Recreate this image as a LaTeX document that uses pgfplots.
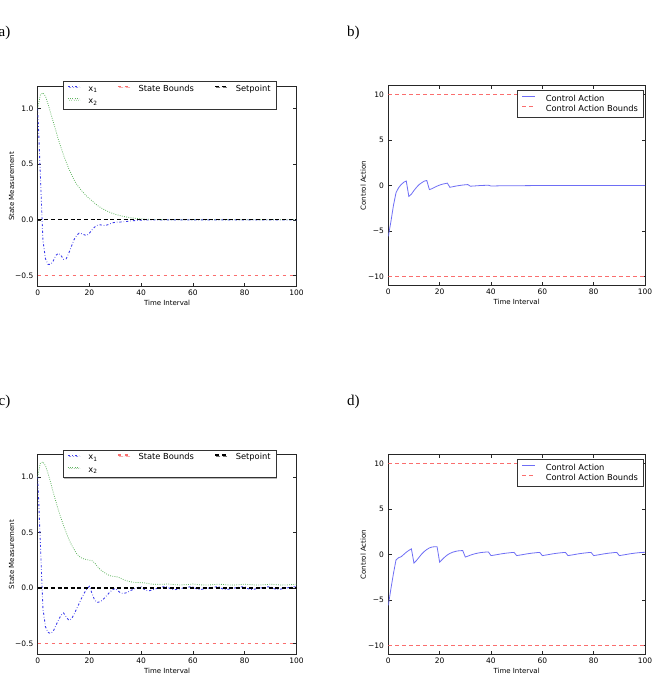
\documentclass[border=0pt]{standalone}
\usepackage{pgfplots}
\pgfplotsset{compat=1.18}
\usepackage{pgfplotstable}
\usepackage{fontspec}
\setmainfont{DejaVu Sans}
\newfontfamily\serifpanel{Liberation Serif}
\usetikzlibrary{shadows}

\definecolor{xone}{RGB}{60,60,235}
\definecolor{xtwo}{RGB}{95,180,95}
\definecolor{bndred}{RGB}{250,110,110}
\definecolor{ctrl}{RGB}{110,110,245}

\pgfplotstableread{
t v
0 1.0
1 0.42
2 -0.18
3 -0.35
4 -0.40
5 -0.40
6 -0.37
7 -0.32
8 -0.30
9 -0.32
10 -0.355
11 -0.35
12 -0.30
13 -0.24
14 -0.18
15 -0.14
16 -0.12
17 -0.125
18 -0.135
19 -0.14
20 -0.12
21 -0.09
22 -0.065
23 -0.05
24 -0.045
25 -0.048
26 -0.052
27 -0.045
28 -0.035
29 -0.027
30 -0.022
32 -0.02
34 -0.016
36 -0.01
38 -0.006
40 -0.003
45 -0.001
50 0
100 0
}\aone

\pgfplotstableread{
t v
0 1.0
1 1.12
2 1.14
3 1.11
4 1.04
5 0.96
6 0.88
7 0.80
8 0.72
9 0.65
10 0.58
11 0.52
12 0.46
13 0.41
14 0.36
15 0.32
16 0.29
17 0.26
18 0.235
19 0.21
20 0.19
21 0.17
22 0.15
23 0.13
24 0.115
25 0.10
26 0.088
27 0.076
28 0.066
29 0.057
30 0.049
32 0.036
34 0.026
36 0.018
38 0.012
40 0.008
43 0.004
46 0.002
50 0.001
55 0
100 0
}\atwo

\pgfplotstableread{
t v
0 -5.6
1 -4.0
2 -2.2
3 -0.8
4 -0.25
5 0.1
6 0.35
7 0.5
8 -1.2
9 -0.95
10 -0.55
11 -0.2
12 0.1
13 0.3
14 0.48
15 0.55
16 -0.45
17 -0.35
18 -0.2
19 -0.07
20 0.05
21 0.14
22 0.2
23 0.26
24 -0.2
25 -0.14
26 -0.08
27 -0.03
28 0.01
29 0.05
30 0.08
31 0.1
32 -0.08
33 -0.06
34 -0.04
35 -0.02
36 0.0
37 0.01
38 0.02
39 0.03
40 -0.06
44 -0.03
48 -0.02
52 -0.02
56 -0.01
60 -0.01
100 0
}\bctrl

\pgfplotstableread{
t v
0 1.0
1 0.42
2 -0.18
3 -0.35
4 -0.40
5 -0.41
6 -0.39
7 -0.34
8 -0.29
9 -0.245
10 -0.225
11 -0.26
12 -0.29
13 -0.28
14 -0.24
15 -0.19
16 -0.14
17 -0.09
18 -0.045
19 -0.01
20 0.015
21 -0.05
22 -0.11
23 -0.13
24 -0.125
25 -0.11
26 -0.085
27 -0.06
28 -0.035
29 -0.015
30 -0.005
31 -0.025
32 -0.045
33 -0.05
34 -0.045
35 -0.035
36 -0.022
37 -0.012
38 -0.002
39 0.006
40 0.01
41 -0.01
42 -0.022
43 -0.025
44 -0.02
45 -0.012
46 -0.005
47 0.002
48 0.008
49 0.012
50 0.012
51 -0.004
52 -0.013
53 -0.015
54 -0.011
56 -0.002
58 0.007
59 0.01
60 0.011
61 -0.004
62 -0.013
63 -0.014
64 -0.01
66 -0.001
68 0.007
69 0.01
70 0.012
71 -0.004
72 -0.013
73 -0.014
74 -0.01
76 -0.001
78 0.007
79 0.01
80 0.011
81 -0.004
82 -0.012
83 -0.014
84 -0.01
86 -0.001
88 0.007
89 0.01
90 0.011
91 -0.004
92 -0.012
93 -0.013
94 -0.01
96 -0.001
98 0.007
99 0.01
100 0.011
}\cone

\pgfplotstableread{
t v
0 1.0
1 1.12
2 1.135
3 1.10
4 1.03
5 0.95
6 0.86
7 0.78
8 0.70
9 0.63
10 0.56
11 0.50
12 0.44
13 0.39
14 0.35
15 0.31
16 0.285
17 0.27
18 0.26
19 0.255
20 0.25
21 0.245
22 0.225
23 0.195
24 0.17
25 0.15
26 0.135
27 0.12
28 0.11
29 0.105
30 0.102
31 0.098
32 0.088
33 0.077
34 0.067
35 0.06
36 0.055
37 0.051
38 0.049
39 0.048
40 0.048
41 0.047
42 0.043
43 0.039
44 0.035
45 0.033
46 0.032
47 0.032
48 0.033
49 0.034
50 0.036
51 0.034
53 0.029
55 0.027
57 0.029
59 0.033
60 0.035
61 0.033
63 0.028
65 0.026
67 0.028
69 0.032
70 0.034
71 0.032
73 0.028
75 0.026
77 0.028
79 0.032
80 0.034
81 0.032
83 0.028
85 0.026
87 0.028
89 0.032
90 0.034
91 0.032
93 0.028
95 0.026
97 0.028
99 0.032
100 0.033
}\ctwo

\pgfplotstableread{
t v
0 -5.6
1 -3.8
2 -2.1
3 -0.6
4 -0.35
5 -0.25
6 0.0
7 0.25
8 0.45
9 0.62
10 -0.95
11 -0.65
12 -0.3
13 0.05
14 0.33
15 0.55
16 0.72
17 0.82
18 0.85
19 0.86
20 -0.85
21 -0.55
22 -0.28
23 -0.05
24 0.12
25 0.24
26 0.33
27 0.39
28 0.42
29 0.43
30 -0.28
31 -0.18
32 -0.07
33 0.02
34 0.1
35 0.16
36 0.21
37 0.24
38 0.27
39 0.28
40 -0.12
41 -0.08
42 -0.03
43 0.02
44 0.07
45 0.11
46 0.15
47 0.18
48 0.21
49 0.23
50 -0.12
52 -0.03
54 0.07
56 0.15
58 0.21
59 0.23
60 -0.12
62 -0.03
64 0.07
66 0.15
68 0.21
69 0.23
70 -0.12
72 -0.03
74 0.07
76 0.15
78 0.21
79 0.23
80 -0.12
82 -0.03
84 0.07
86 0.15
88 0.21
89 0.23
90 -0.12
92 -0.03
94 0.07
96 0.15
98 0.21
99 0.23
100 0.24
}\dctrl

\pgfplotsset{
  myax/.style={
    scale only axis,
    xmin=0, xmax=100,
    xtick={0,20,40,60,80,100},
    tick align=inside,
    xtick pos=both, ytick pos=both,
    axis line style={black!85, line width=0.6pt},
    major tick length=3.5pt,
    every tick/.style={black!85, line width=0.5pt},
    tick label style={font=\fontsize{7.5}{8.5}\selectfont},
    label style={font=\fontsize{7}{8}\selectfont},
    /pgf/number format/assume math mode=true,
    yticklabel style={inner sep=0pt, anchor=east, xshift=-4.2pt},
    xticklabel style={inner sep=0pt, anchor=north, yshift=-3pt},
    xlabel={Time Interval},
    xlabel style={at={(axis description cs:0.5,-0.079)}, anchor=center},
  },
  stateax/.style={
    myax,
    width=258.8pt,
    ymin=-0.6, ymax=1.2,
    ytick={-0.5,0,0.5,1},
    yticklabels={−0.5,0.0,0.5,1.0},
    ylabel={State Measurement},
    ylabel style={at={(axis description cs:-0.1005,0.5)}, anchor=center},
    legend columns=3,
    legend cell align=left,
    legend image code/.code={\draw[##1] (0pt,2.6pt) -- (11pt,2.6pt);},
    legend style={at={(axis description cs:0.0966,1.025)}, anchor=north west,
      draw=black!80, line width=0.6pt, fill=white,
      font=\fontsize{8.3}{9}\selectfont,
      inner xsep=4.5pt, inner ysep=2.5pt, row sep=2pt,
      nodes={inner sep=1pt, text height=6.5pt, text depth=1.8pt},
      /tikz/every odd column/.append style={column sep=8pt},
      /tikz/every even column/.append style={column sep=0pt},
      drop shadow={shadow xshift=1.2pt, shadow yshift=-1.2pt, fill=black!55}},
  },
  ctrlax/.style={
    myax,
    width=256.7pt, height=200.2pt,
    ymin=-11, ymax=11,
    ytick={-10,-5,0,5,10},
    yticklabels={−10,−5,0,5,10},
    ylabel={Control Action},
    ylabel style={at={(axis description cs:-0.0974,0.5)}, anchor=center},
    legend cell align=left,
    legend image code/.code={\draw[##1] (0pt,2.6pt) -- (13pt,2.6pt);},
    legend style={at={(axis description cs:0.9934,0.975)}, anchor=north east,
      draw=black!80, line width=0.6pt, fill=white,
      font=\fontsize{8.3}{9}\selectfont,
      inner xsep=4pt, inner ysep=2.8pt, row sep=0.4pt,
      nodes={inner sep=1pt, text height=6.5pt, text depth=1.8pt},
      /tikz/every odd column/.append style={column sep=9pt}},
  },
  x1style/.style={color=xone, line width=0.9pt, dash pattern=on 2.2pt off 2pt on 0.6pt off 2pt},
  x2style/.style={color=xtwo, line width=0.8pt, dash pattern=on 0.8pt off 1.4pt},
  bndstyle/.style={color=bndred, line width=1.1pt, dash pattern=on 3.5pt off 3.5pt},
  spstyle/.style={color=black, line width=1.3pt, dash pattern=on 4pt off 2.6pt},
  ctrlstyle/.style={color=ctrl, line width=0.8pt},
}

\begin{document}
\begin{tikzpicture}
\useasboundingbox (0pt,0pt) rectangle (655pt,694pt);

% panel labels
\node[font=\serifpanel\fontsize{15}{16}\selectfont, anchor=base east, inner sep=0pt] at (10.5pt,657pt) {a)};
\node[font=\serifpanel\fontsize{15}{16}\selectfont, anchor=base west, inner sep=0pt] at (347pt,657pt) {b)};
\node[font=\serifpanel\fontsize{15}{16}\selectfont, anchor=base east, inner sep=0pt] at (10.5pt,288pt) {c)};
\node[font=\serifpanel\fontsize{15}{16}\selectfont, anchor=base west, inner sep=0pt] at (347pt,288pt) {d)};

% a)
\begin{axis}[stateax, height=200.5pt, at={(37.7pt,407.361pt)}, anchor=south west]
\addplot[x1style, forget plot] table[x=t,y=v] {\aone};
\addplot[x2style, forget plot] table[x=t,y=v] {\atwo};
\addplot[bndstyle, forget plot] coordinates {(0,-0.5) (100,-0.5)};
\addplot[spstyle, forget plot] coordinates {(0,0) (100,0)};
\addlegendimage{x1style}
\addlegendentry{\makebox[28pt][l]{x\textsubscript{1}}}
\addlegendimage{bndstyle}
\addlegendentry{\makebox[75pt][l]{State Bounds}}
\addlegendimage{spstyle}
\addlegendentry{Setpoint}
\addlegendimage{x2style}
\addlegendentry{\makebox[28pt][l]{x\textsubscript{2}}}
\end{axis}

% b)
\begin{axis}[ctrlax, at={(388.3pt,408.4pt)}, anchor=south west]
\addplot[ctrlstyle] table[x=t,y=v] {\bctrl};
\addlegendentry{Control Action}
\addplot[bndstyle] coordinates {(0,10) (100,10)};
\addlegendentry{Control Action Bounds}
\addplot[bndstyle, forget plot] coordinates {(0,-10) (100,-10)};
\end{axis}

% c)
\begin{axis}[stateax, height=200pt, at={(37.7pt,39.389pt)}, anchor=south west]
\addplot[x1style, forget plot] table[x=t,y=v] {\cone};
\addplot[x2style, forget plot] table[x=t,y=v] {\ctwo};
\addplot[bndstyle, forget plot] coordinates {(0,-0.5) (100,-0.5)};
\addplot[spstyle, forget plot] coordinates {(0,0) (100,0)};
\addlegendimage{x1style}
\addlegendentry{\makebox[28pt][l]{x\textsubscript{1}}}
\addlegendimage{bndstyle}
\addlegendentry{\makebox[75pt][l]{State Bounds}}
\addlegendimage{spstyle}
\addlegendentry{Setpoint}
\addlegendimage{x2style}
\addlegendentry{\makebox[28pt][l]{x\textsubscript{2}}}
\end{axis}

% d)
\begin{axis}[ctrlax, at={(388.3pt,39.4pt)}, anchor=south west]
\addplot[ctrlstyle] table[x=t,y=v] {\dctrl};
\addlegendentry{Control Action}
\addplot[bndstyle] coordinates {(0,10) (100,10)};
\addlegendentry{Control Action Bounds}
\addplot[bndstyle, forget plot] coordinates {(0,-10) (100,-10)};
\end{axis}
\end{tikzpicture}
\end{document}
